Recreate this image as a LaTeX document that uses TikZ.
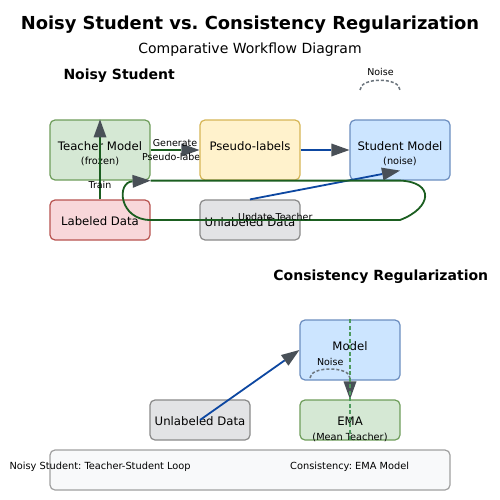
\documentclass[tikz,border=0pt]{standalone}
\usepackage{fontspec}
\setmainfont{DejaVu Sans}
\usetikzlibrary{arrows.meta,positioning}
\frenchspacing

\definecolor{teacherfill}{HTML}{D5E8D4}
\definecolor{teacherline}{HTML}{6F9E5C}
\definecolor{pseudofill}{HTML}{FFF2CC}
\definecolor{pseudoline}{HTML}{D6B656}
\definecolor{studentfill}{HTML}{CCE5FF}
\definecolor{studentline}{HTML}{6C8EBF}
\definecolor{labeledfill}{HTML}{F8D7DA}
\definecolor{labeledline}{HTML}{B85450}
\definecolor{unlabfill}{HTML}{E2E3E5}
\definecolor{unlabline}{HTML}{8A8A8A}
\definecolor{legendfill}{HTML}{F8F9FA}
\definecolor{legendline}{HTML}{A0A0A0}
\definecolor{lgreen}{HTML}{1B5E20}
\definecolor{lblue}{HTML}{0D47A1}
\definecolor{tipgray}{HTML}{495057}
\definecolor{noisegray}{HTML}{6C757D}
\definecolor{emagreen}{HTML}{4E9A5E}

\pgfdeclarelayer{back}
\pgfdeclarelayer{mid}
\pgfsetlayers{back,mid,main}

\begin{document}
\begin{tikzpicture}[x=1pt,y=-1pt,
  box/.style={draw, rounded corners=5pt, line width=1.2pt, minimum width=100pt, minimum height=60pt, inner sep=0pt},
  flat/.style={box, minimum height=40pt},
  txt/.style={font=\fontsize{11.7}{14}\selectfont, anchor=base, inner sep=0pt},
  sub/.style={font=\fontsize{9.75}{12}\selectfont, anchor=base, inner sep=0pt},
  lbl/.style={font=\fontsize{9.5}{13.6}\selectfont, text=black, inner sep=0pt},
  head/.style={font=\bfseries\fontsize{14}{17}\selectfont, anchor=base, inner sep=0pt},
  arr/.style={line width=1.8pt, -{Triangle[length=18pt,width=13pt,line width=0pt,color=tipgray]}},
  noise/.style={draw=noisegray, line width=1.5pt, dash pattern=on 3pt off 2pt}]
  \useasboundingbox (0,0) rectangle (500,500);

  % titles
  \node[head, font=\bfseries\fontsize{17.9}{21}\selectfont] (title) at (250,29.3) {Noisy Student vs. Consistency Regularization};
  \node[txt, font=\fontsize{14}{16}\selectfont] (subtitle) at (250,53.3) {Comparative Workflow Diagram};
  \node[head] (nshead) at (119.2,80) {Noisy Student};
  \node[head] (crhead) at (380.8,280.7) {Consistency Regularization};

  % noisy student boxes
  \begin{pgfonlayer}{back}
    \fill[white] (0,0) rectangle (500,500);
    \node[box, fill=teacherfill, draw=teacherline] (tm) at (100,150) {};
  \end{pgfonlayer}
  \node[box, fill=pseudofill, draw=pseudoline] (pl) at (250,150) {};
  \node[box, fill=studentfill, draw=studentline] (sm) at (400,150) {};
  \node[flat, fill=labeledfill, draw=labeledline] (ld) at (100,220) {};
  \node[flat, fill=unlabfill, draw=unlabline] (ud) at (250,220) {};
  \node[txt] (tmt) at ([yshift=-0.7pt]tm.center) {Teacher Model};
  \node[sub] (tms) at ([yshift=-14.5pt]tm.center) {(frozen)};
  \node[txt] (plt) at ([yshift=-0.7pt]pl.center) {Pseudo-labels};
  \node[txt] (smt) at ([yshift=-0.7pt]sm.center) {Student Model};
  \node[sub] (sms) at ([yshift=-14.5pt]sm.center) {(noise)};
  \node[txt] (ldt) at ([yshift=-5.7pt]ld.center) {Labeled Data};
  \node[txt] (udt) at ([yshift=-6pt]ud.center) {Unlabeled Data};

  % consistency boxes
  \node[box, fill=studentfill, draw=studentline] (md) at (350,350) {};
  \node[flat, fill=teacherfill, draw=teacherline] (ema) at (350,420) {};
  \node[flat, fill=unlabfill, draw=unlabline] (ud2) at (200,420) {};
  \node[txt] (mdt) at ([yshift=-0.7pt]md.center) {Model};
  \node[txt] (emat) at ([yshift=-5.7pt]ema.center) {EMA};
  \node[sub] (emas) at ([yshift=-20.3pt]ema.center) {(Mean Teacher)};
  \node[txt] (ud2t) at ([yshift=-5.7pt]ud2.center) {Unlabeled Data};

  % legend
  \node[box, minimum width=400pt, minimum height=40pt, fill=legendfill, draw=legendline] (legend) at (250,470) {};
  \node[sub, font=\fontsize{9.8}{12}\selectfont, anchor=base west] (lgns) at (9.3,469) {Noisy Student: Teacher-Student Loop};
  \node[sub, font=\fontsize{9.8}{12}\selectfont, anchor=base west] (lgcr) at (290,469) {Consistency: EMA Model};

  % noisy student arrows
  \begin{pgfonlayer}{mid}
    \draw[arr, lgreen] (tm.east) -- node[lbl, align=center] (genlbl) {Generate\\Pseudo-labels} (pl.west);
  \end{pgfonlayer}
  \draw[arr, lgreen] (ld.north) -- node[lbl, pos=0.175] (trainlbl) {Train} (tm.north);
  \draw[arr, lblue] (pl.east) -- (sm.west);
  \draw[arr, lblue] (ud.north) -- ([yshift=10pt]sm.south);
  \coordinate (loopr) at (400,220);
  \draw[arr, lgreen] (tm.south east) -- (sm.south) .. controls (435,182) and (432,208) .. (loopr)
    -- node[lbl, anchor=base] (updlbl) {Update Teacher} (ld.east) .. controls (119,220) and (116,182) .. (tm.south east);
  \draw[noise] (360,90) .. controls (360,77) and (400,77) .. (400,90);
  \node[lbl, anchor=base] (noise1) at (380.5,75.7) {Noise};

  % consistency arrows
  \draw[arr, lblue] (ud2.center) -- (md.west);
  \draw[noise] (310,378) .. controls (310,366) and (350,366) .. (350,378);
  \node[lbl, anchor=base] (noise2) at (330.2,365) {Noise};
  \draw[arr, lgreen] (md.south) -- (ema.north);
  \draw[draw=emagreen, line width=1.2pt, dash pattern=on 4pt off 2.5pt] (md.north) -- (ema.south);
\end{tikzpicture}
\end{document}
